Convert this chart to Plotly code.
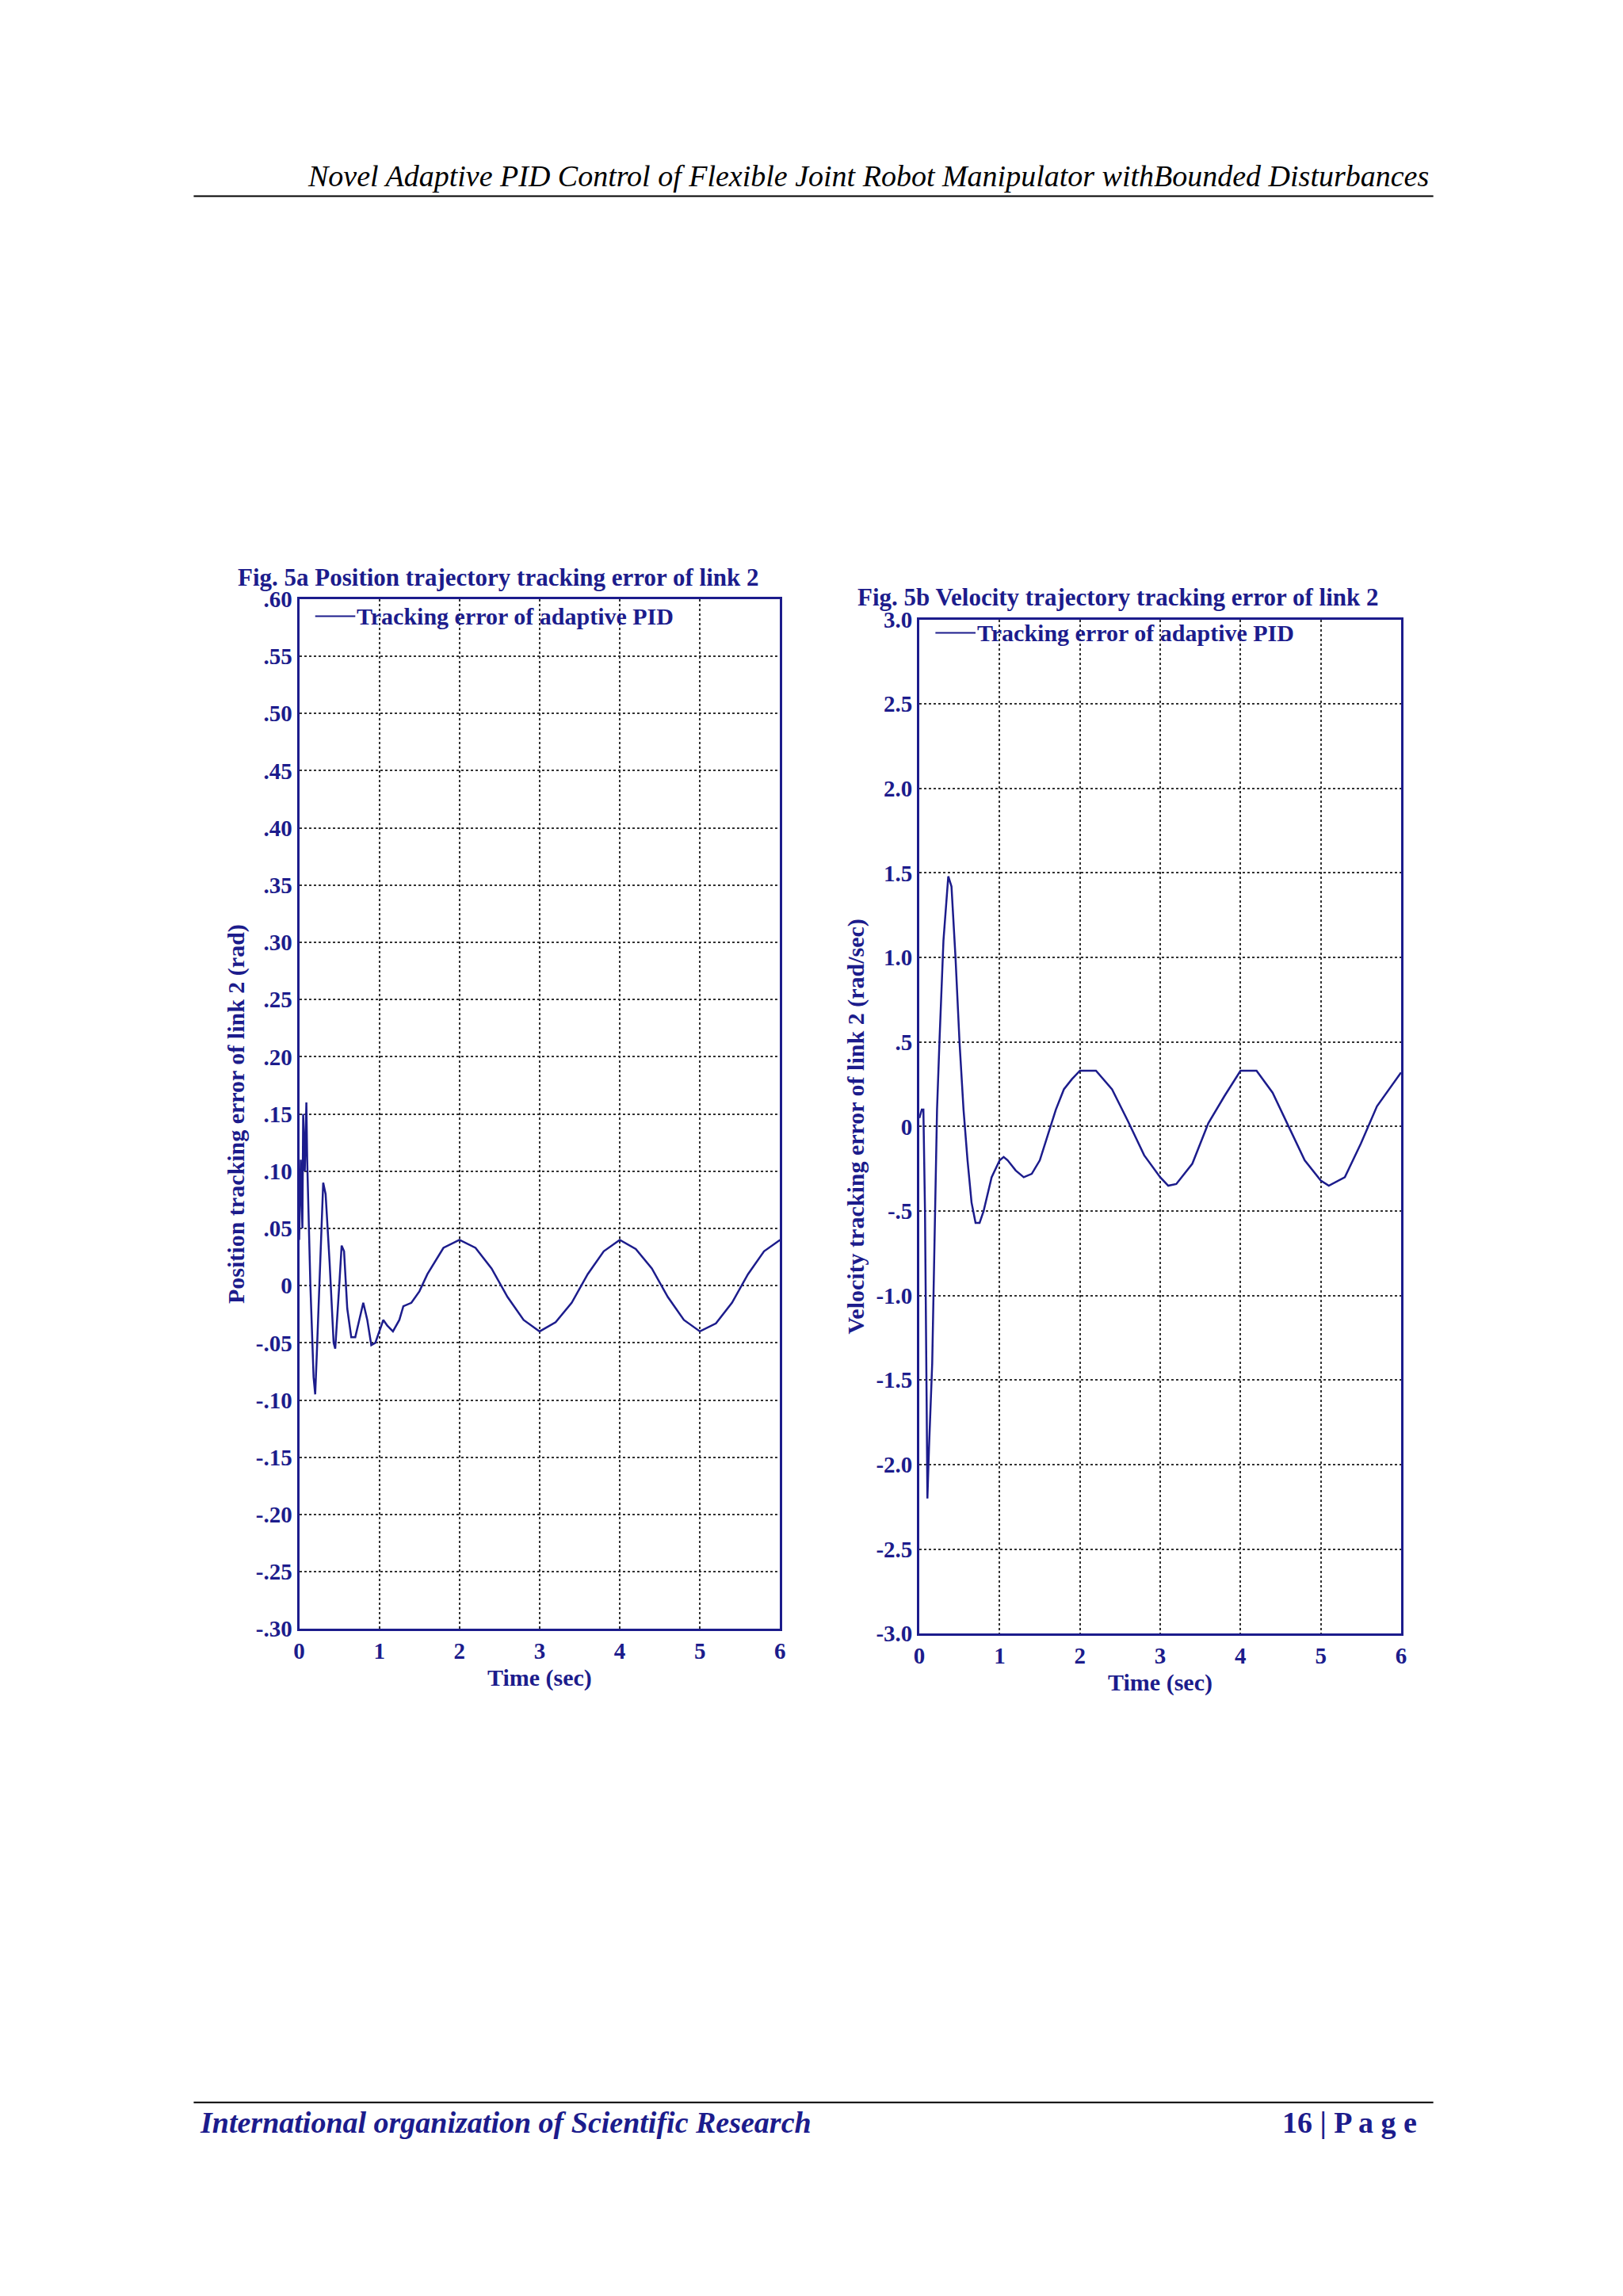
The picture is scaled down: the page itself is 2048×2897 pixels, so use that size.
import plotly.graph_objects as go

# Fig 5a: position tracking error
t_pos = [0, 0.02, 0.04, 0.05, 0.07, 0.09, 0.1, 0.14, 0.18, 0.2, 0.22, 0.25, 0.3, 0.33, 0.38, 0.43, 0.45, 0.5, 0.53, 0.56, 0.6, 0.65, 0.7, 0.75, 0.8, 0.85, 0.9, 0.95, 1.0, 1.05, 1.1, 1.17, 1.25, 1.3, 1.4, 1.5, 1.6, 1.8, 2.0, 2.2, 2.4, 2.6, 2.8, 3.0, 3.2, 3.4, 3.6, 3.8, 4.0, 4.2, 4.4, 4.6, 4.8, 5.0, 5.2, 5.4, 5.6, 5.8, 6.0]
e_pos = [0.04, 0.11, 0.05, 0.15, 0.10, 0.16, 0.11, 0.0, -0.08, -0.095, -0.06, 0.0, 0.09, 0.08, 0.02, -0.05, -0.055, 0.0, 0.035, 0.03, -0.02, -0.045, -0.045, -0.03, -0.015, -0.03, -0.052, -0.05, -0.04, -0.03, -0.035, -0.04, -0.03, -0.018, -0.015, -0.005, 0.01, 0.033, 0.04, 0.033, 0.015, -0.01, -0.03, -0.04, -0.032, -0.015, 0.01, 0.03, 0.04, 0.032, 0.015, -0.01, -0.03, -0.04, -0.033, -0.015, 0.01, 0.03, 0.04]

# Fig 5b: velocity tracking error
t_vel = [0, 0.03, 0.05, 0.07, 0.09, 0.1, 0.12, 0.14, 0.16, 0.18, 0.2, 0.22, 0.25, 0.3, 0.36, 0.4, 0.45, 0.5, 0.55, 0.6, 0.65, 0.7, 0.75, 0.8, 0.9, 1.0, 1.05, 1.1, 1.2, 1.3, 1.4, 1.5, 1.6, 1.7, 1.8, 1.9, 2.0, 2.2, 2.4, 2.6, 2.8, 3.0, 3.1, 3.2, 3.4, 3.6, 3.8, 4.0, 4.2, 4.4, 4.6, 4.8, 5.0, 5.1, 5.3, 5.5, 5.7, 5.9, 6.0]
e_vel = [0.05, 0.1, 0.1, -0.5, -1.6, -2.2, -1.9, -1.6, -1.4, -0.9, -0.4, 0.1, 0.5, 1.1, 1.48, 1.42, 1.0, 0.5, 0.1, -0.2, -0.45, -0.57, -0.57, -0.5, -0.3, -0.2, -0.18, -0.2, -0.26, -0.3, -0.28, -0.2, -0.05, 0.1, 0.22, 0.28, 0.33, 0.33, 0.22, 0.03, -0.17, -0.3, -0.35, -0.34, -0.22, 0.02, 0.18, 0.33, 0.33, 0.2, 0.0, -0.2, -0.32, -0.35, -0.3, -0.1, 0.12, 0.25, 0.32]

pos_ticks = [0.60, 0.55, 0.50, 0.45, 0.40, 0.35, 0.30, 0.25, 0.20, 0.15, 0.10, 0.05, 0, -0.05, -0.10, -0.15, -0.20, -0.25, -0.30]
pos_labels = [".60", ".55", ".50", ".45", ".40", ".35", ".30", ".25", ".20", ".15", ".10", ".05", "0", "-.05", "-.10", "-.15", "-.20", "-.25", "-.30"]
vel_ticks = [3.0, 2.5, 2.0, 1.5, 1.0, 0.5, 0, -0.5, -1.0, -1.5, -2.0, -2.5, -3.0]
vel_labels = ["3.0", "2.5", "2.0", "1.5", "1.0", ".5", "0", "-.5", "-1.0", "-1.5", "-2.0", "-2.5", "-3.0"]
x_ticks = [0, 1, 2, 3, 4, 5, 6]

NAVY = "#1c1c8c"
FONT = "Liberation Serif"
DX = 13
DY = 18

def px(x):
    return (x - DX) / 2048

def py(y):
    return 1 - (y - DY) / 2897

fig = go.Figure()
fig.add_trace(go.Scatter(x=t_pos, y=e_pos, mode="lines", line=dict(color=NAVY, width=2.5),
                         name="Tracking error of adaptive PID", xaxis="x", yaxis="y", showlegend=False))
fig.add_trace(go.Scatter(x=t_vel, y=e_vel, mode="lines", line=dict(color=NAVY, width=2.5),
                         name="Tracking error of adaptive PID", xaxis="x2", yaxis="y2", showlegend=False))

ax_common = dict(showline=True, linecolor=NAVY, linewidth=3, mirror=True,
                 showgrid=True, gridcolor="#333333", griddash="dot", gridwidth=1.5,
                 zeroline=False, ticks="", tickfont=dict(family=FONT, size=29, color=NAVY))
tf = dict(family=FONT, size=30, color=NAVY)
ttf = dict(family=FONT, size=31, color=NAVY)

fig.update_layout(
    width=2048, height=2897, margin=dict(l=0, r=0, t=0, b=0),
    paper_bgcolor="white", plot_bgcolor="white",
    xaxis=dict(domain=[px(378), px(989)], range=[0, 6], tickvals=x_ticks, anchor="y",
               title=dict(text="<b>Time (sec)</b>", font=tf, standoff=8), **ax_common),
    yaxis=dict(domain=[py(2072), py(758)], range=[-0.30, 0.60], tickvals=pos_ticks,
               ticktext=["<b>%s</b>" % s for s in pos_labels], anchor="x",
               title=dict(text="<b>Position tracking error of link 2 (rad)</b>", font=tf, standoff=6), **ax_common),
    xaxis2=dict(domain=[px(1166), px(1778)], range=[0, 6], tickvals=x_ticks, anchor="y2",
                title=dict(text="<b>Time (sec)</b>", font=tf, standoff=8), **ax_common),
    yaxis2=dict(domain=[py(2078), py(784)], range=[-3.0, 3.0], tickvals=vel_ticks,
                ticktext=["<b>%s</b>" % s for s in vel_labels], anchor="x2",
                title=dict(text="<b>Velocity tracking error of link 2 (rad/sec)</b>", font=tf, standoff=6), **ax_common),
)
fig.update_xaxes(ticktext=["<b>%d</b>" % v for v in x_ticks])

ann = []
ann.append(dict(text="<b>Fig. 5a Position trajectory tracking error of link 2</b>", x=px(298), y=py(730),
                xref="paper", yref="paper", xanchor="left", yanchor="middle", showarrow=False, font=ttf))
ann.append(dict(text="<b>Fig. 5b Velocity trajectory tracking error of link 2</b>", x=px(1085), y=py(756),
                xref="paper", yref="paper", xanchor="left", yanchor="middle", showarrow=False, font=ttf))
for xr, yr, y0 in [("x", "y", 0.585), ("x2", "y2", 2.92)]:
    ann.append(dict(text="<b>Tracking error of adaptive PID</b>", x=0.7, y=y0, xref=xr, yref=yr,
                    xanchor="left", yanchor="middle", showarrow=False, font=dict(family=FONT, size=30, color=NAVY)))
ann.append(dict(text="<i>Novel Adaptive PID Control of Flexible Joint Robot Manipulator withBounded Disturbances</i>",
                x=px(1815), y=py(218), xref="paper", yref="paper", xanchor="right", yanchor="middle",
                showarrow=False, font=dict(family=FONT, size=38, color="black")))
ann.append(dict(text="<b><i>International organization of Scientific Research</i></b>",
                x=px(250), y=py(2702), xref="paper", yref="paper", xanchor="left", yanchor="middle",
                showarrow=False, font=dict(family=FONT, size=38, color=NAVY)))
ann.append(dict(text="<b>16 | P a g e</b>", x=px(1800), y=py(2702), xref="paper", yref="paper",
                xanchor="right", yanchor="middle", showarrow=False, font=dict(family=FONT, size=38, color=NAVY)))
fig.update_layout(annotations=ann)

shapes = [
    dict(type="line", xref="paper", yref="paper", x0=px(244), x1=px(1819), y0=py(244), y1=py(244),
         line=dict(color="black", width=2)),
    dict(type="line", xref="paper", yref="paper", x0=px(244), x1=px(1819), y0=py(2676), y1=py(2676),
         line=dict(color="black", width=2)),
    dict(type="line", xref="x", yref="y", x0=0.2, x1=0.7, y0=0.585, y1=0.585, line=dict(color=NAVY, width=2)),
    dict(type="line", xref="x2", yref="y2", x0=0.2, x1=0.7, y0=2.92, y1=2.92, line=dict(color=NAVY, width=2)),
]
fig.update_layout(shapes=shapes)
fig.write_html("out.html")
